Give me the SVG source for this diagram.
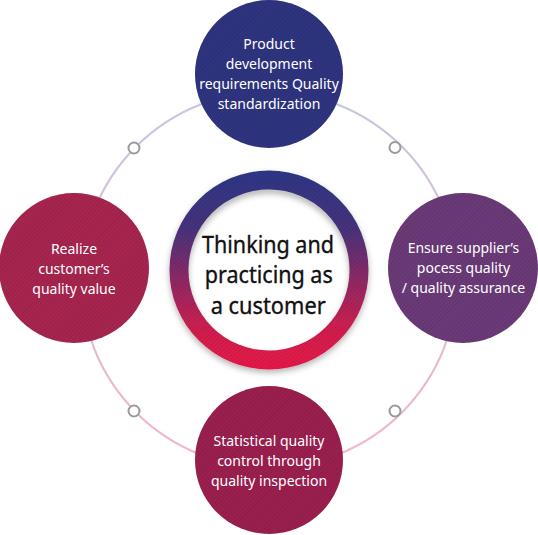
<svg xmlns="http://www.w3.org/2000/svg" width="538" height="535" viewBox="0 0 538 535">
<defs>
<style>
.node-text{font-family:"Noto Sans","Liberation Sans",sans-serif;font-size:14px;fill:#ffffff;text-anchor:middle}
.center-text{font-family:"Noto Sans","Liberation Sans",sans-serif;font-size:23px;fill:#111111;stroke:#111111;stroke-width:0.35;text-anchor:middle}
.dot{fill:#ffffff;stroke:#9a9a9a;stroke-width:2}
</style>
<linearGradient id="ringGrad" gradientUnits="userSpaceOnUse" x1="0" y1="90" x2="0" y2="468">
<stop offset="0" stop-color="#c6c6e2"/>
<stop offset="1" stop-color="#f4b6c6"/>
</linearGradient>
<linearGradient id="centerGrad" gradientUnits="userSpaceOnUse" x1="0" y1="170" x2="0" y2="369">
<stop offset="0" stop-color="#2c3787"/>
<stop offset="0.3" stop-color="#48327c"/>
<stop offset="0.55" stop-color="#8f2966"/>
<stop offset="0.8" stop-color="#d01f4f"/>
<stop offset="1" stop-color="#e8184a"/>
</linearGradient>
<pattern id="stripes" width="3" height="3" patternUnits="userSpaceOnUse" patternTransform="rotate(45)">
<rect x="0" y="0" width="1" height="3" fill="#000000" fill-opacity="0.09"/>
</pattern>
<filter id="shadow" x="-20%" y="-20%" width="140%" height="140%">
<feDropShadow dx="0" dy="3" stdDeviation="3" flood-color="#000000" flood-opacity="0.3"/>
</filter>
<filter id="blur" x="-20%" y="-20%" width="140%" height="140%">
<feGaussianBlur stdDeviation="3"/>
</filter>
<clipPath id="innerClip">
<circle cx="269" cy="270" r="80.5"/>
</clipPath>
</defs>
<rect width="538" height="535" fill="#ffffff"/>
<g id="connectors">
<circle cx="269" cy="279.5" r="188" fill="none" stroke="url(#ringGrad)" stroke-width="2.2"/>
<circle class="dot" cx="134" cy="148" r="5.5"/>
<circle class="dot" cx="395" cy="147.5" r="5.5"/>
<circle class="dot" cx="134" cy="411" r="5.5"/>
<circle class="dot" cx="395" cy="411" r="5.5"/>
</g>
<g id="node-top">
<circle cx="269" cy="74" r="74" fill="#2f3480"/>
<circle cx="269" cy="74" r="74" fill="url(#stripes)"/>
<text class="node-text" x="269" y="48.5">Product</text>
<text class="node-text" x="269" y="68.5">development</text>
<text class="node-text" x="269" y="88.5">requirements Quality</text>
<text class="node-text" x="269" y="108.5">standardization</text>
</g>
<g id="node-left">
<circle cx="74" cy="268" r="75" fill="#a8254f"/>
<circle cx="74" cy="268" r="75" fill="url(#stripes)"/>
<text class="node-text" x="74" y="253.5">Realize</text>
<text class="node-text" x="74" y="273.5">customer’s</text>
<text class="node-text" x="74" y="293.5">quality value</text>
</g>
<g id="node-right">
<circle cx="463" cy="268" r="75" fill="#6b3a78"/>
<circle cx="463" cy="268" r="75" fill="url(#stripes)"/>
<text class="node-text" x="463.5" y="253">Ensure supplier’s</text>
<text class="node-text" x="463.5" y="273">pocess quality</text>
<text class="node-text" x="463.5" y="293">/ quality assurance</text>
</g>
<g id="node-bottom">
<circle cx="269" cy="460" r="74" fill="#9b1f4f"/>
<circle cx="269" cy="460" r="74" fill="url(#stripes)"/>
<text class="node-text" x="269" y="446">Statistical quality</text>
<text class="node-text" x="269" y="466">control through</text>
<text class="node-text" x="269" y="486">quality inspection</text>
</g>
<g id="node-center">
<circle cx="269" cy="270" r="99.5" fill="url(#centerGrad)" filter="url(#shadow)"/>
<circle cx="269" cy="270" r="99.5" fill="url(#stripes)"/>
<circle cx="269" cy="270" r="80.5" fill="#ffffff"/>
<g clip-path="url(#innerClip)">
<circle cx="269" cy="274" r="84" fill="none" stroke="#000000" stroke-opacity="0.35" stroke-width="6" filter="url(#blur)"/>
</g>
<text class="center-text" x="268" y="253" textLength="132" lengthAdjust="spacingAndGlyphs">Thinking and</text>
<text class="center-text" x="268.8" y="283" textLength="128" lengthAdjust="spacingAndGlyphs">practicing as</text>
<text class="center-text" x="268.2" y="314" textLength="115" lengthAdjust="spacingAndGlyphs">a customer</text>
</g>
</svg>
